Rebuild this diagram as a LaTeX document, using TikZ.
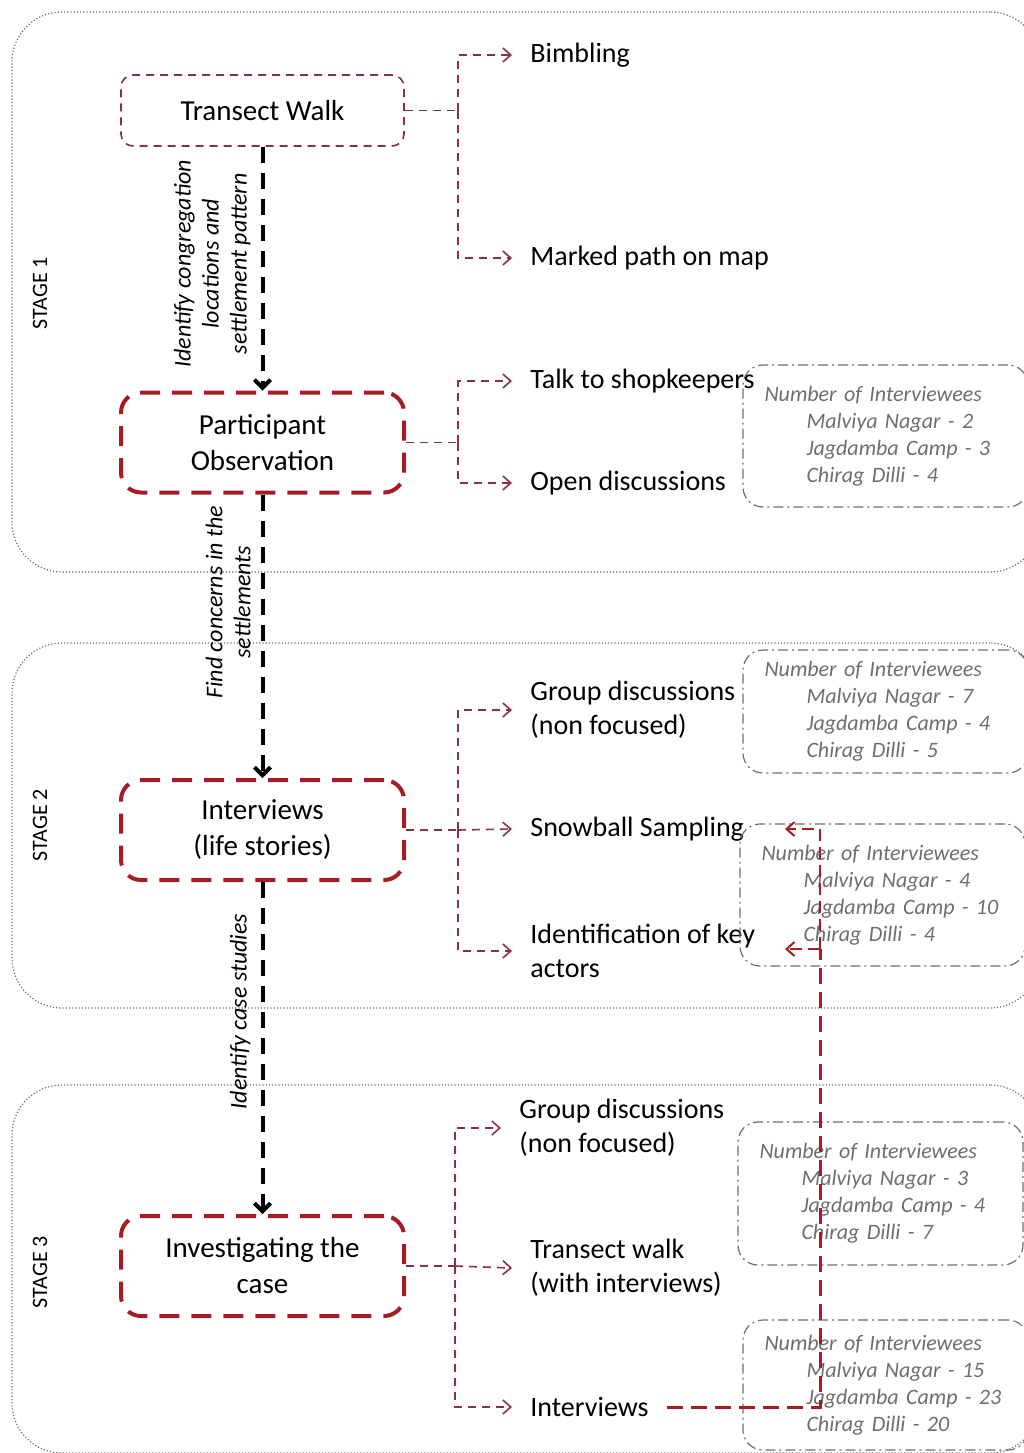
\documentclass[tikz,border=0pt]{standalone}
\usepackage{fontspec}
\setmainfont{Carlito}
\usetikzlibrary{arrows.meta}
\definecolor{boxred}{RGB}{165,28,36}
\definecolor{linered}{RGB}{135,50,62}
\definecolor{countgray}{RGB}{110,110,110}
\definecolor{stagegray}{RGB}{125,105,105}

\begin{document}
\begin{tikzpicture}[x=0.5pt,y=-0.5pt]
  \tikzstyle{stagebox}=[draw=stagegray, densely dotted, line width=0.6pt, rounded corners=25pt, inner sep=0pt, minimum width=514pt]
  \tikzstyle{stagelabel}=[rotate=90, font=\fontsize{11}{13}\selectfont]
  \tikzstyle{methodthin}=[draw=linered, dash pattern=on 4pt off 3pt, line width=0.8pt, rounded corners=6pt, minimum width=141.5pt, minimum height=35.5pt, font=\fontsize{14.5}{18}\selectfont]
  \tikzstyle{methodbox}=[draw=boxred, dash pattern=on 10pt off 6pt, line width=2pt, rounded corners=10pt, minimum width=141.5pt, minimum height=50pt, align=center, font=\fontsize{14.5}{18}\selectfont]
  \tikzstyle{tasklabel}=[anchor=west, align=left, inner sep=9pt, font=\fontsize{14}{17}\selectfont]
  \tikzstyle{countbox}=[draw=countgray, dash pattern=on 5pt off 2pt on 1pt off 2pt, line width=0.6pt, rounded corners=10pt, inner xsep=10.5pt, text width=121pt, minimum width=142.5pt, align=left, text=countgray, font=\fontsize{11}{13.5}\selectfont\itshape]
  \tikzstyle{steplabel}=[rotate=90, align=center, anchor=south, inner sep=5pt, font=\fontsize{12}{14}\selectfont\itshape]
  \tikzstyle{flow}=[black, line width=2pt, dash pattern=on 8pt off 5pt, -{Straight Barb[length=4pt,width=8pt]}]
  \tikzstyle{branch}=[linered, line width=0.8pt, dash pattern=on 4pt off 3pt]
  \tikzstyle{branchto}=[branch, -{Straight Barb[length=4pt,width=7pt]}]
  \tikzstyle{feedback}=[boxred, line width=1.5pt, dash pattern=on 8pt off 4pt]
  \tikzstyle{feedbackto}=[boxred, line width=1pt, dash pattern=on 6pt off 3pt, -{Straight Barb[length=4pt,width=7pt]}]

  \useasboundingbox (0,0) rectangle (1024,1453);

  % Stages
  \node[stagebox, minimum height=280pt] (st1) at (526,292) {};
  \node[stagebox, minimum height=182.5pt] (st2) at (526,825.5) {};
  \node[stagebox, minimum height=184pt] (st3) at (526,1269) {};
  \node[stagelabel] (st1lbl) at (40,293) {STAGE 1};
  \node[stagelabel] (st2lbl) at (40,825) {STAGE 2};
  \node[stagelabel] (st3lbl) at (40,1272) {STAGE 3};

  % Node definitions
  \node[methodthin] (tw) at (262.5,110.5) {Transect Walk};
  \node[methodbox] (po) at (262.5,442.5) {Participant\\Observation};
  \node[methodbox] (iv) at (262.5,830) {Interviews\\(life stories)};
  \node[methodbox] (ic) at (262.5,1266) {Investigating the\\case};

  \node[tasklabel] (bimb) at (512,55) {Bimbling};
  \node[tasklabel] (mpath) at (512,258) {Marked path on map};
  \node[tasklabel] (shop) at (512,381) {Talk to shopkeepers};
  \node[tasklabel] (opend) at (512,483) {Open discussions};
  \node[tasklabel] (grp2) at (512,710) {Group discussions\\(non focused)};
  \node[tasklabel] (snow) at (512,829) {Snowball Sampling};
  \node[tasklabel] (keyact) at (512,951) {Identification of key\\actors};
  \node[tasklabel] (grp3) at (501,1128) {Group discussions\\(non focused)};
  \node[tasklabel] (twalk) at (512,1268) {Transect walk\\(with interviews)};
  \node[tasklabel] (int3) at (512,1407) {Interviews};

  % Interviewee counts
  \node[countbox, minimum height=71pt] (cntA) at (885.5,436) {Number of Interviewees\\\hspace*{21pt}Malviya Nagar - 2\\\hspace*{21pt}Jagdamba Camp - 3\\\hspace*{21pt}Chirag Dilli - 4};
  \node[countbox, minimum height=61.5pt] (cntB) at (885.5,711.5) {Number of Interviewees\\\hspace*{21pt}Malviya Nagar - 7\\\hspace*{21pt}Jagdamba Camp - 4\\\hspace*{21pt}Chirag Dilli - 5};
  \node[countbox, minimum height=71pt] (cntC) at (882.5,895) {Number of Interviewees\\\hspace*{21pt}Malviya Nagar - 4\\\hspace*{21pt}Jagdamba Camp - 10\\\hspace*{21pt}Chirag Dilli - 4};
  \node[countbox, minimum height=71.5pt] (cntD) at (880.5,1193.5) {Number of Interviewees\\\hspace*{21pt}Malviya Nagar - 3\\\hspace*{21pt}Jagdamba Camp - 4\\\hspace*{21pt}Chirag Dilli - 7};
  \node[countbox, minimum height=65pt] (cntE) at (885.5,1385) {Number of Interviewees\\\hspace*{21pt}Malviya Nagar - 15\\\hspace*{21pt}Jagdamba Camp - 23\\\hspace*{21pt}Chirag Dilli - 20};

  \coordinate (j1) at (458,110.5);
  \coordinate (j2) at (458,442.5);
  \coordinate (j3) at (458,830);
  \coordinate (j4) at (455,1266);
  \coordinate (fbA) at (820,829);
  \coordinate (fbB) at (820,949);
  \coordinate (tipA) at (785,829);
  \coordinate (tipB) at (785,949);

  % Edge definitions
  \draw[flow] (tw) -- node[steplabel, pos=0.48] {Identify congregation\\locations and\\settlement pattern} (po);
  \draw[flow] (po) -- node[steplabel, pos=0.38] {Find concerns in the\\settlements} (iv);
  \draw[flow] (iv) -- node[steplabel, pos=0.39] {Identify case studies} (ic);

  \draw[branch] (tw.east) -- (j1);
  \draw[branchto] (j1) |- (bimb.west);
  \draw[branchto] (j1) |- (mpath.west);
  \draw[branch] (po.east) -- (j2);
  \draw[branchto] (j2) |- (shop.west);
  \draw[branchto] (j2) |- (opend.west);
  \draw[branch] (iv.east) -- (j3);
  \draw[branchto] (j3) |- (grp2.west);
  \draw[branchto] (j3) -- (snow.west);
  \draw[branchto] (j3) |- (keyact.west);
  \draw[branch] (ic.east) -- (j4);
  \draw[branchto] (j4) |- (grp3.west);
  \draw[branchto] (j4) -- (twalk.west);
  \draw[branchto] (j4) |- (int3.west);

  \draw[feedback] (int3.east) -| (fbB);
  \draw[feedbackto] (fbB) -- (fbA) -- (tipA);
  \draw[feedbackto] (fbB) -- (tipB);
\end{tikzpicture}
\end{document}
